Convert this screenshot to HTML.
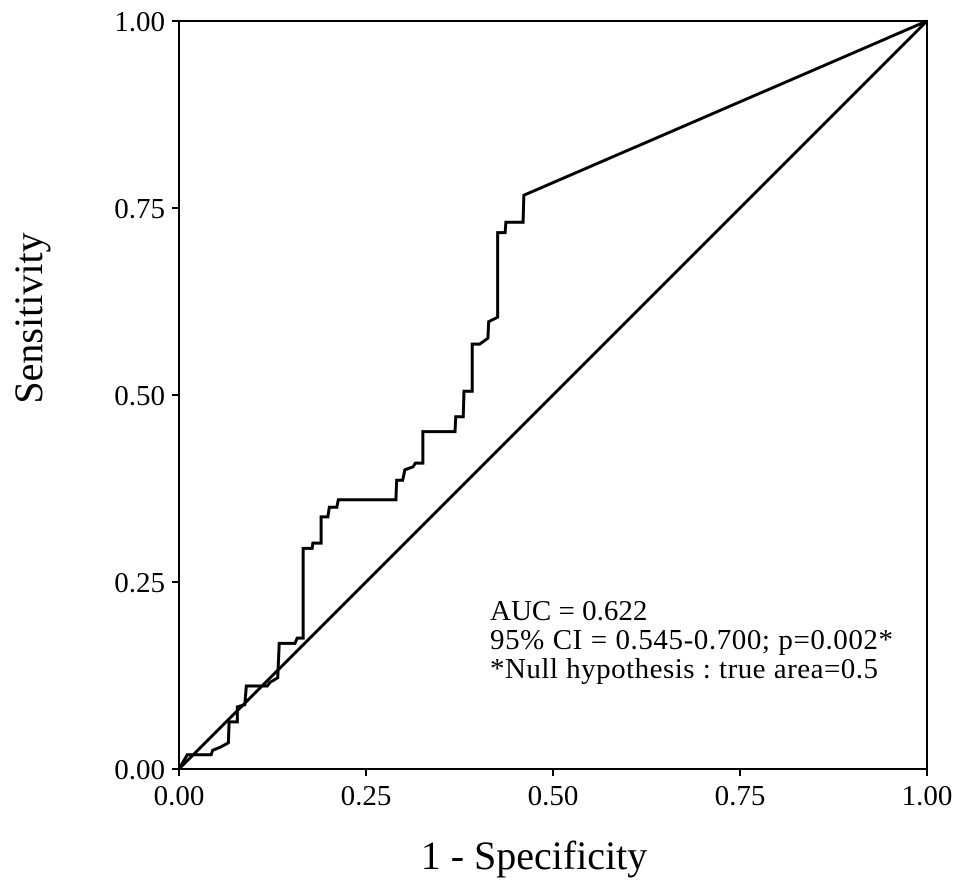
<!DOCTYPE html>
<html><head><meta charset="utf-8"><style>
body{margin:0;background:#fff;}
svg{display:block;font-family:"Liberation Serif",serif;}
</style></head><body>
<svg id="chart" width="969" height="891">
<g id="axes"></g><g id="marks"></g>
<text x="490" y="620" font-size="29">AUC = 0.622</text>
<text x="490" y="649" font-size="29" textLength="403">95% CI = 0.545-0.700; p=0.002*</text>
<text x="490" y="678" font-size="29" textLength="388">*Null hypothesis : true area=0.5</text>
<text x="534" y="869" font-size="40" text-anchor="middle">1 - Specificity</text>
<text transform="translate(42,318) rotate(-90)" font-size="40" text-anchor="middle">Sensitivity</text>
</svg>
<script>
const fpr=[0,.011,.043,.045,.055,.066,.067,.078,.078,.088,.090,.118,.122,.132,.134,.155,.158,.166,.166,.178,.179,.190,.190,.199,.201,.211,.213,.290,.291,.299,.302,.313,.316,.326,.326,.369,.370,.380,.381,.392,.392,.402,.413,.414,.426,.426,.436,.437,.460,.461,1];
const tpr=[0,.019,.019,.025,.029,.035,.063,.063,.083,.086,.111,.111,.116,.122,.168,.168,.175,.175,.295,.295,.302,.302,.337,.337,.350,.350,.360,.360,.386,.386,.400,.404,.409,.409,.451,.451,.471,.471,.505,.505,.568,.568,.576,.598,.604,.717,.717,.731,.731,.767,1];
const ticks=[0,0.25,0.5,0.75,1];
const tickLabels=["0.00","0.25","0.50","0.75","1.00"];
const X0=179,X1=927,Y0=769,Y1=21;
const sx=v=>X0+(X1-X0)*v, sy=v=>Y0-(Y0-Y1)*v;
const NS="http://www.w3.org/2000/svg";
const axes=document.getElementById('axes'), marks=document.getElementById('marks');
function mk(tag,attrs,parent){const e=document.createElementNS(NS,tag);for(const k in attrs)e.setAttribute(k,attrs[k]);parent.appendChild(e);return e;}
const frame=mk('rect',{x:X0,y:Y1,width:X1-X0,height:Y0-Y1,fill:'none',stroke:'#000','stroke-width':2},axes);


ticks.forEach((t,i)=>{
 const a=mk('line',{x1:sx(t),x2:sx(t),y1:Y0,y2:Y0+7,stroke:'#000','stroke-width':2},axes);
 
 
 const b=mk('text',{x:sx(t),y:Y0+36,'font-size':29,'text-anchor':'middle'},axes);b.textContent=tickLabels[i];
 
 
 const c=mk('line',{x1:X0-7,x2:X0,y1:sy(t),y2:sy(t),stroke:'#000','stroke-width':2},axes);
 
 
 const d=mk('text',{x:X0-14,y:sy(t)+10,'font-size':29,'text-anchor':'end'},axes);d.textContent=tickLabels[i];
 
 
});
const diag=mk('line',{x1:sx(0),y1:sy(0),x2:sx(1),y2:sy(1),stroke:'#000','stroke-width':3},marks);


const curve=mk('polyline',{points:fpr.map((v,i)=>sx(v)+','+sy(tpr[i])).join(' '),fill:'none',stroke:'#000','stroke-width':3,'stroke-linejoin':'miter'},marks);


</script>
</body></html>
